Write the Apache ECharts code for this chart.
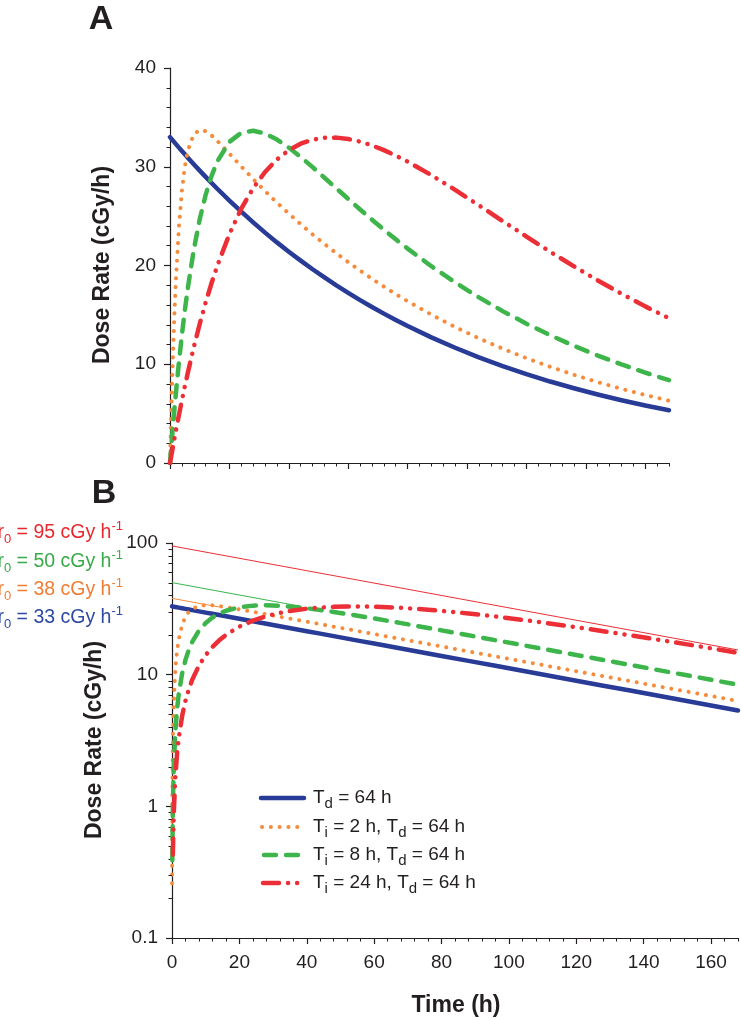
<!DOCTYPE html>
<html><head><meta charset="utf-8">
<script src="https://cdn.jsdelivr.net/npm/echarts@6/dist/echarts.min.js"></script>
<style>html,body{margin:0;padding:0;background:#fff}#c{width:741px;height:1020px}</style>
</head><body><div id="c"></div>
<script>
// ---- data ----
const hours = [0,0.02,0.05,0.1,0.25,0.5,1,1.5,2,3,4,5,6,8,10,12,14,16,20,24,28,32,36,40,44,48,52,56,60,64,68,72,76,80,88,96,104,112,120,128,136,144,152,160,168];
const blueRate   = [33,32.99,32.98,32.96,32.91,32.82,32.64,32.47,32.29,31.94,31.60,31.26,30.92,30.26,29.61,28.98,28.36,27.75,26.57,25.45,24.37,23.33,22.34,21.40,20.49,19.62,18.79,17.99,17.23,16.50,15.80,15.13,14.49,13.87,12.72,11.67,10.70,9.81,9.00,8.25,7.57,6.94,6.36,5.83,5.35];
const orangeRate = [0,0.26,0.65,1.29,3.13,5.99,10.99,15.16,18.64,23.93,27.56,30.01,31.63,33.28,33.73,33.60,33.17,32.60,31.32,30.03,28.76,27.54,26.37,25.26,24.19,23.15,22.18,21.24,20.34,19.48,18.65,17.86,17.10,16.38,15.02,13.77,12.63,11.58,10.62,9.74,8.93,8.19,7.51,6.89,6.31];
const greenRate  = [0,0.08,0.20,0.39,0.97,1.92,3.74,5.47,7.12,10.19,12.96,15.47,17.72,21.58,24.68,27.15,29.08,30.58,32.52,33.44,33.64,33.36,32.75,31.94,30.99,29.96,28.89,27.81,26.74,25.67,24.64,23.63,22.65,21.71,19.93,18.28,16.77,15.38,14.11,12.94,11.86,10.88,9.98,9.15,8.39];
const redRate    = [0,0.03,0.09,0.17,0.43,0.85,1.68,2.50,3.30,4.85,6.34,7.77,9.14,11.71,14.08,16.25,18.23,20.04,23.18,25.76,27.83,29.47,30.74,31.68,32.33,32.74,32.93,32.95,32.81,32.54,32.16,31.68,31.13,30.52,29.15,27.65,26.09,24.50,22.93,21.39,19.91,18.49,17.14,15.86,14.66];
// thin reference lines (panel B): [start hour, start rate], [end hour, end rate]
const thinRed    = [[0,95],[168,15.40]];
const thinGreen  = [[0,50],[36,33.86]];
const thinOrange = [[0,38],[14,32.65]];
const xMajorTicks = [0,20,40,60,80,100,120,140,160];
const logMinorTicks = [0.2,0.3,0.4,0.5,0.6,0.7,0.8,0.9,2,3,4,5,6,7,8,9,20,30,40,50,60,70,80,90];
const r0Labels = [['95','red'],['50','green'],['38','orange'],['33','blue']];
const legendRows = [
  ['{m|T}{s|d}{m| = 64 h}','blue'],
  ['{m|T}{s|i}{m| = 2 h, T}{s|d}{m| = 64 h}','orange'],
  ['{m|T}{s|i}{m| = 8 h, T}{s|d}{m| = 64 h}','green'],
  ['{m|T}{s|i}{m| = 24 h, T}{s|d}{m| = 64 h}','red']
];

// ---- styling ----
const FONT = '"Liberation Sans", Arial, Helvetica, sans-serif';
const TXT = '#231f20';
const COL = {blue:'#273b97', orange:'#f68b3c', green:'#3db54b', red:'#ec2f36'};
const LBL = {blue:'#2e4aa1', orange:'#f07d33', green:'#3aaa48', red:'#e8282d'};
const LS = {
  blue:   {width:4.5, type:'solid', cap:'round'},
  orange: {width:4,   type:[0.1,8.7], cap:'round'},
  green:  {width:4.5, type:[12,10], cap:'round'},
  red:    {width:4.5, type:[16,9,0.1,9,0.1,9], cap:'round'}
};
const seriesVals = {blue:blueRate, orange:orangeRate, green:greenRate, red:redRate};

function pairs(vals, logFloor){
  return hours.map((h,i)=>[h, vals[i]]).filter(p => logFloor == null || p[1] >= logFloor);
}

const axisLine = {show:true, onZero:false, lineStyle:{color:TXT, width:1.2}};
const labelStyle = {color:TXT, fontSize:19, fontFamily:FONT};

const xAxes = [];
const yAxes = [];
xAxes.push({gridIndex:0, type:'value', position:'bottom', min:0, max:168, interval:20,
  axisLine, axisTick:{show:true, length:6, customValues:xMajorTicks, lineStyle:{color:TXT,width:1.2}},
  axisLabel:{show:false}, splitLine:{show:false}});
xAxes.push({gridIndex:0, type:'value', position:'bottom', min:0, max:168, interval:4,
  axisLine:{show:false, onZero:false}, axisTick:{show:true, length:3.5, lineStyle:{color:TXT,width:1}},
  axisLabel:{show:false}, splitLine:{show:false}});
xAxes.push({gridIndex:1, type:'value', position:'bottom', min:0, max:168, interval:20,
  axisLine, axisTick:{show:true, length:6, customValues:xMajorTicks, lineStyle:{color:TXT,width:1.2}},
  axisLabel:Object.assign({show:true, margin:15, customValues:xMajorTicks,
    formatter:v => (v % 20 === 0 ? String(v) : '')}, labelStyle), splitLine:{show:false}});
xAxes.push({gridIndex:1, type:'value', position:'bottom', min:0, max:168, interval:4,
  axisLine:{show:false, onZero:false}, axisTick:{show:true, length:3.5, lineStyle:{color:TXT,width:1}},
  axisLabel:{show:false}, splitLine:{show:false}});

yAxes.push({gridIndex:0, type:'value', position:'left', min:0, max:40, interval:10,
  axisLine, axisTick:{show:true, length:6, lineStyle:{color:TXT,width:1.2}},
  minorTick:{show:true, splitNumber:5, length:3.5, lineStyle:{color:TXT,width:1}},
  axisLabel:Object.assign({margin:14}, labelStyle), splitLine:{show:false}, minorSplitLine:{show:false}});
yAxes.push({gridIndex:1, type:'log', logBase:10, position:'left', min:0.1, max:100,
  axisLine, axisTick:{show:true, length:6, lineStyle:{color:TXT,width:1.2}},
  axisLabel:Object.assign({margin:14, formatter:v => (v < 1 ? Number(v).toFixed(1) : String(Math.round(v)))}, labelStyle),
  splitLine:{show:false}});

const series = [];
['blue','orange','green','red'].forEach((k,i) => {
  series.push({type:'line', xAxisIndex:0, yAxisIndex:0, data:pairs(seriesVals[k]), showSymbol:false, symbol:'none',
    smooth:false, z:3+i, silent:true,
    lineStyle:{color:COL[k], width:LS[k].width, type:LS[k].type, cap:LS[k].cap, join:'round'}});
});
[[thinRed,'red'],[thinGreen,'green'],[thinOrange,'orange']].forEach(([d,k]) => {
  series.push({type:'line', xAxisIndex:2, yAxisIndex:1, data:d, showSymbol:false, symbol:'none', z:2, silent:true,
    lineStyle:{color:COL[k], width:1}});
});
['blue','orange','green','red'].forEach((k,i) => {
  series.push({type:'line', xAxisIndex:2, yAxisIndex:1, data:pairs(seriesVals[k], 0.25), showSymbol:false, symbol:'none',
    smooth:false, z:3+i, silent:true,
    lineStyle:{color:COL[k], width:LS[k].width, type:LS[k].type, cap:LS[k].cap, join:'round'}});
});
series.push({type:'custom', xAxisIndex:2, yAxisIndex:1, clip:false, silent:true, z:5,
  data:logMinorTicks.map(v => [0, v]),
  renderItem:(params, api) => {
    const p = api.coord([api.value(0), api.value(1)]);
    return {type:'line', shape:{x1:p[0]-3.5, y1:Math.round(p[1])+0.5, x2:p[0], y2:Math.round(p[1])+0.5},
      style:{stroke:TXT, lineWidth:1}};
  }});

const graphic = [];
const center = {align:'center', verticalAlign:'middle', textAlign:'center', textVerticalAlign:'middle'};
graphic.push({type:'text', x:101, y:20, style:Object.assign({text:'A', font:'bold 34px '+FONT, fill:TXT}, center)});
graphic.push({type:'text', x:104, y:494, style:Object.assign({text:'B', font:'bold 34px '+FONT, fill:TXT}, center)});
graphic.push({type:'text', x:103, y:265, rotation:Math.PI/2, style:Object.assign({text:'Dose Rate (cGy/h)', font:'bold 23px '+FONT, fill:TXT}, center)});
graphic.push({type:'text', x:95, y:740, rotation:Math.PI/2, style:Object.assign({text:'Dose Rate (cGy/h)', font:'bold 23px '+FONT, fill:TXT}, center)});
graphic.push({type:'text', x:456, y:1006, style:Object.assign({text:'Time (h)', font:'bold 23px '+FONT, fill:TXT}, center)});

const r0Y = [533, 562, 590, 618];
r0Labels.forEach(([val,k],i) => {
  const c = LBL[k];
  graphic.push({type:'text', x:123, y:r0Y[i], style:{
    text:'{m|r}{s|0}{m| = '+val+' cGy h}{p|-1}',
    align:'right', verticalAlign:'middle', textAlign:'right', textVerticalAlign:'middle',
    rich:{
      m:{fontSize:19.5, fontFamily:FONT, fill:c, color:c, lineHeight:26, verticalAlign:'middle'},
      s:{fontSize:13, fontFamily:FONT, fill:c, color:c, lineHeight:13, verticalAlign:'bottom'},
      p:{fontSize:13, fontFamily:FONT, fill:c, color:c, lineHeight:13, verticalAlign:'top'}
    }}});
});

const legY = [798, 827, 855, 883];
const legX = {blue:[261,304], orange:[262,300], green:[264,300], red:[263,300]};
legendRows.forEach(([txt,k],i) => {
  const y = legY[i];
  graphic.push({type:'line', shape:{x1:legX[k][0], y1:y, x2:legX[k][1], y2:y},
    style:{stroke:COL[k], lineWidth:LS[k].width, lineDash: (LS[k].type === 'solid' ? null : LS[k].type), lineCap:LS[k].cap}});
  graphic.push({type:'text', x:313, y:y, style:{
    text:txt, align:'left', verticalAlign:'middle', textAlign:'left', textVerticalAlign:'middle',
    rich:{
      m:{fontSize:19, fontFamily:FONT, fill:TXT, color:TXT, lineHeight:26, verticalAlign:'middle'},
      s:{fontSize:15, fontFamily:FONT, fill:TXT, color:TXT, lineHeight:15, verticalAlign:'bottom'}
    }}});
});

const chart = echarts.init(document.getElementById('c'), null, {renderer:'canvas'});
chart.setOption({
  animation:false,
  backgroundColor:'#ffffff',
  grid:[
    {left:170, top:68, width:499, height:395, containLabel:false},
    {left:172, top:543, width:566, height:395, containLabel:false}
  ],
  xAxis:xAxes,
  yAxis:yAxes,
  series:series,
  graphic:graphic
});
</script>
</body></html>
